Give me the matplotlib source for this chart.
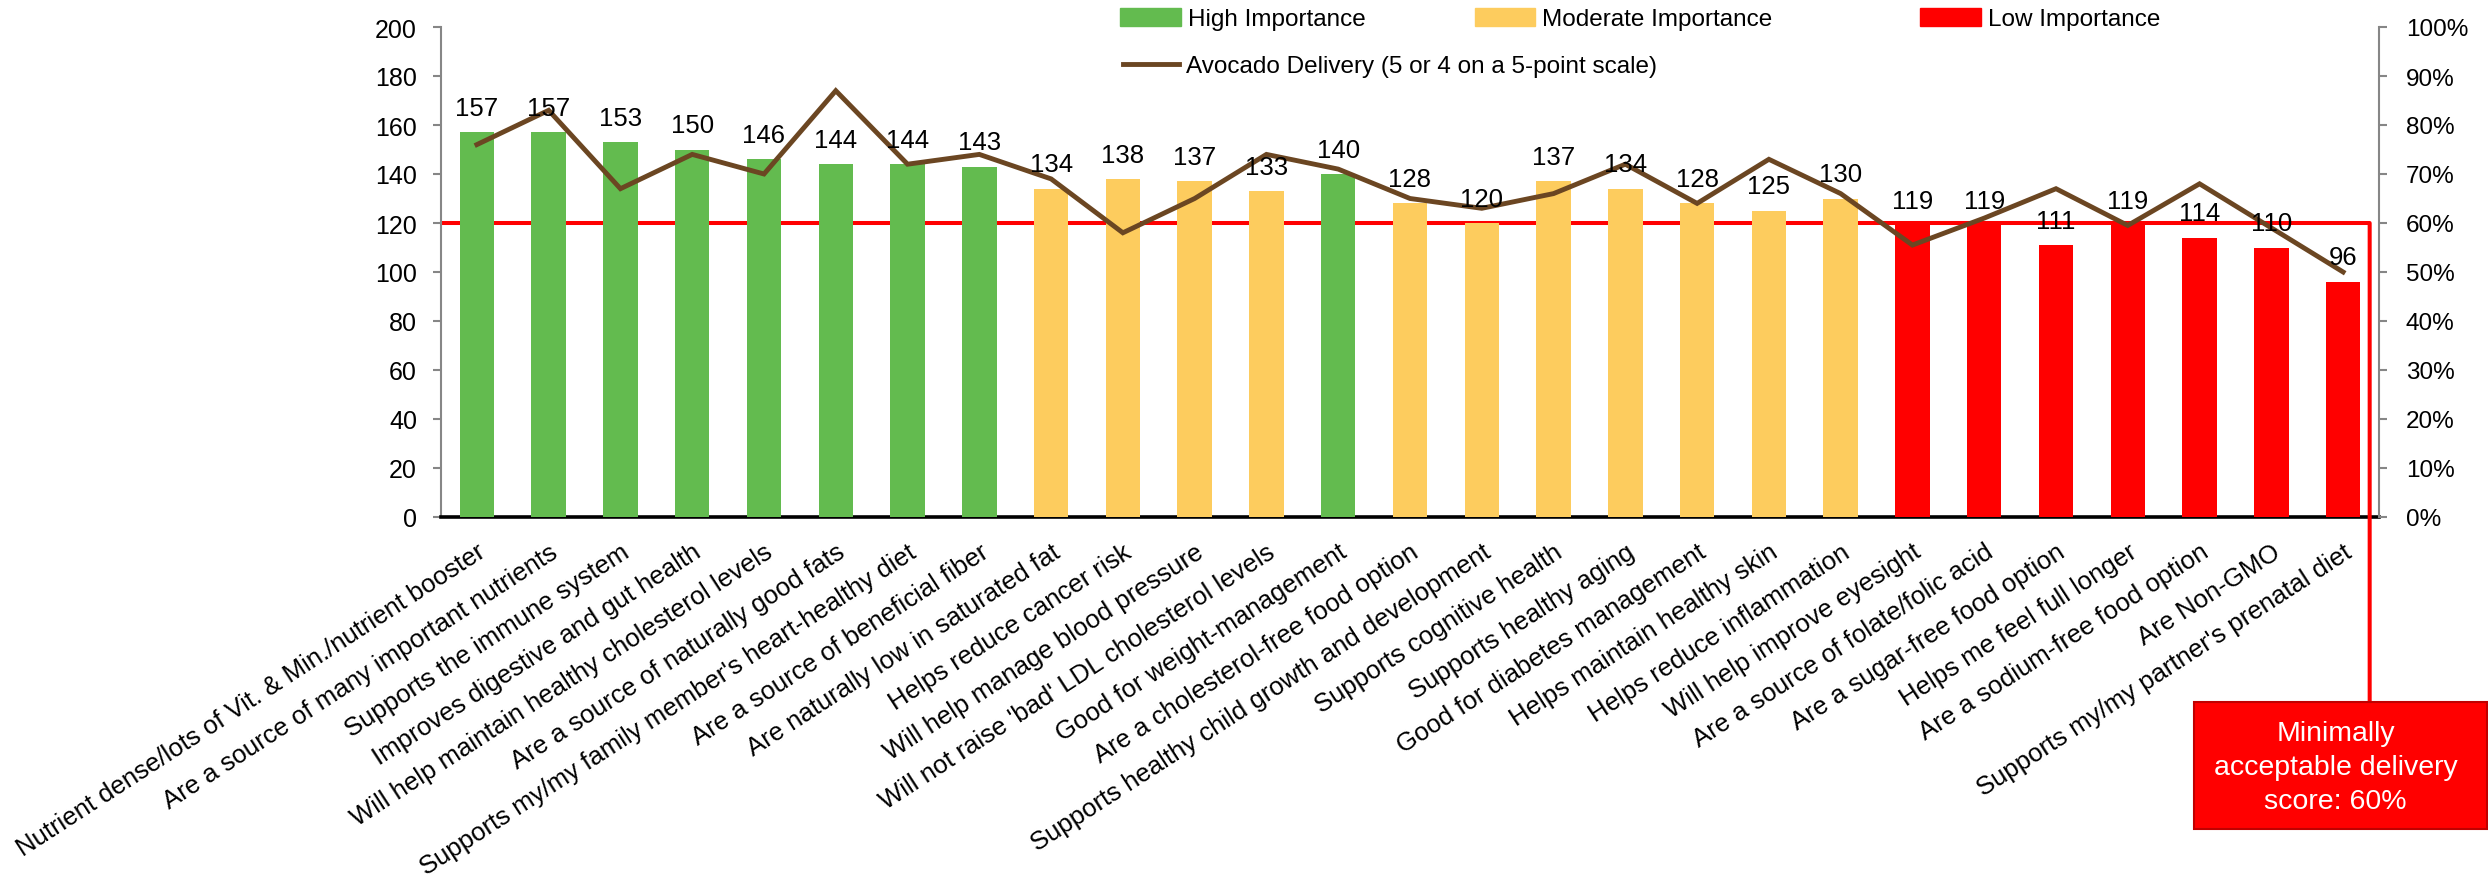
import matplotlib
matplotlib.use("Agg")
import matplotlib.pyplot as plt
from matplotlib.patches import Patch, Rectangle, ConnectionPatch
from matplotlib.lines import Line2D
from matplotlib.ticker import MultipleLocator, PercentFormatter
from matplotlib.transforms import blended_transform_factory

plt.rcParams["font.family"] = ["Liberation Sans", "DejaVu Sans"]

# ---- data -------------------------------------------------------------
categories = [
    "Nutrient dense/lots of Vit. & Min./nutrient booster",
    "Are a source of many important nutrients",
    "Supports the immune system",
    "Improves digestive and gut health",
    "Will help maintain healthy cholesterol levels",
    "Are a source of naturally good fats",
    "Supports my/my family member's heart-healthy diet",
    "Are a source of beneficial fiber",
    "Are naturally low in saturated fat",
    "Helps reduce cancer risk",
    "Will help manage blood pressure",
    "Will not raise 'bad' LDL cholesterol levels",
    "Good for weight-management",
    "Are a cholesterol-free food option",
    "Supports healthy child growth and development",
    "Supports cognitive health",
    "Supports healthy aging",
    "Good for diabetes management",
    "Helps maintain healthy skin",
    "Helps reduce inflammation",
    "Will help improve eyesight",
    "Are a source of folate/folic acid",
    "Are a sugar-free food option",
    "Helps me feel full longer",
    "Are a sodium-free food option",
    "Are Non-GMO",
    "Supports my/my partner's prenatal diet",
]
importance = [157, 157, 153, 150, 146, 144, 144, 143, 134, 138, 137, 133, 140,
              128, 120, 137, 134, 128, 125, 130, 119, 119, 111, 119, 114, 110, 96]
delivery = [0.76, 0.83, 0.67, 0.74, 0.70, 0.87, 0.72, 0.74, 0.69, 0.58, 0.65,
            0.74, 0.71, 0.65, 0.63, 0.66, 0.72, 0.64, 0.73, 0.66, 0.555, 0.61,
            0.67, 0.595, 0.68, 0.59, 0.50]
tiers = (["High"] * 8 + ["Moderate"] * 4 + ["High"] + ["Moderate"] * 7
         + ["Low"] * 7)
tier_labels = ["High Importance", "Moderate Importance", "Low Importance"]
line_label = "Avocado Delivery (5 or 4 on a 5-point scale)"
importance_threshold = 120
delivery_threshold = 0.60
callout_text = "Minimally\nacceptable delivery\nscore: 60%"

# ---- style ------------------------------------------------------------
tier_colors = {"High": "#63BB4F", "Moderate": "#FDCC5E", "Low": "#FF0000"}
line_color = "#6B4622"
spine_grey = "#868686"

W, H = 2488, 879
fig = plt.figure(figsize=(W / 100, H / 100), dpi=100)
fig.patch.set_facecolor("white")

def fx(px):
    return px / W

def fy(py):
    return 1 - py / H

ax = fig.add_axes([fx(441), fy(518), fx(2379 - 441), (518 - 28) / H])
x = list(range(len(categories)))

# threshold line behind the bars
x_end = 26.37
ax.plot([-0.5, x_end], [importance_threshold, importance_threshold],
        color="#FF0000", lw=2.9, zorder=1, solid_capstyle="butt")

ax.bar(x, importance, width=0.48, color=[tier_colors[t] for t in tiers],
       zorder=3)
ax.set_xlim(-0.5, 26.5)
ax.set_ylim(0, 200)
ax.yaxis.set_major_locator(MultipleLocator(20))

ax.set_xticks(x)
ax.set_xticklabels(categories, rotation=33, ha="right", va="top",
                   rotation_mode="anchor", fontsize=18.5)
ax.tick_params(axis="x", length=0, pad=16)
ax.tick_params(axis="y", direction="out", length=5.8, width=1.5,
               color=spine_grey, labelsize=18, pad=11.5)

for side in ("top", "right"):
    ax.spines[side].set_visible(False)
ax.spines["left"].set_color(spine_grey)
ax.spines["left"].set_linewidth(1.5)
ax.spines["bottom"].set_color("black")
ax.spines["bottom"].set_linewidth(2.6)

# secondary axis for the delivery percentage
ax2 = ax.twinx()
ax2.set_ylim(0, 1)
ax2.yaxis.set_major_locator(MultipleLocator(0.1))
ax2.yaxis.set_major_formatter(PercentFormatter(1.0, decimals=0))
ax2.plot(x, delivery, color=line_color, lw=3.5, zorder=4,
         solid_joinstyle="miter")
ax2.tick_params(axis="y", direction="out", length=5.8, width=1.5,
                color=spine_grey, labelsize=17.5, pad=13.5)
for side in ("top", "left", "bottom"):
    ax2.spines[side].set_visible(False)
ax2.spines["right"].set_color(spine_grey)
ax2.spines["right"].set_linewidth(1.5)

# value labels above the bars
for xi, v in zip(x, importance):
    ax2.annotate(f"{v}", xy=(xi, v), xycoords=ax.transData,
                 xytext=(0, 12.5), textcoords="offset points",
                 ha="center", va="baseline", fontsize=18.5, zorder=6)

# callout: vertical drop from the threshold to the note box
box_left, box_right, box_top, box_bottom = 2194, 2487, 703, 830
drop = ConnectionPatch(
    xyA=(x_end, importance_threshold), coordsA=ax.transData,
    xyB=(x_end, fy(box_top)),
    coordsB=blended_transform_factory(ax.transData, fig.transFigure),
    color="#FF0000", lw=2.9)
fig.add_artist(drop)
fig.add_artist(Rectangle((fx(box_left), fy(box_bottom)),
                         fx(box_right - box_left), (box_bottom - box_top) / H,
                         transform=fig.transFigure, facecolor="#FF0000",
                         edgecolor="#C00000", lw=1.5))
fig.text(fx((box_left + box_right) / 2 - 5), fy(768), callout_text,
         ha="center", va="center", color="white", fontsize=20.5,
         linespacing=1.4)

# legend entries laid out across the top
def place_legend(handle, label, x_px, y_px, hl):
    leg = fig.legend([handle], [label], loc="center left",
                     bbox_to_anchor=(fx(x_px), fy(y_px)),
                     bbox_transform=fig.transFigure, frameon=False,
                     fontsize=17.5, handlelength=hl, handleheight=0.8,
                     handletextpad=0.3, borderpad=0, borderaxespad=0)
    return leg

place_legend(Patch(color=tier_colors["High"]), tier_labels[0], 1120, 20, 2.5)
place_legend(Patch(color=tier_colors["Moderate"]), tier_labels[1], 1475, 20, 2.45)
place_legend(Patch(color=tier_colors["Low"]), tier_labels[2], 1920, 20, 2.5)
place_legend(Line2D([], [], color=line_color, lw=3.5), line_label, 1123, 67, 2.3)

fig.savefig("out.png", dpi=100, facecolor="white")
